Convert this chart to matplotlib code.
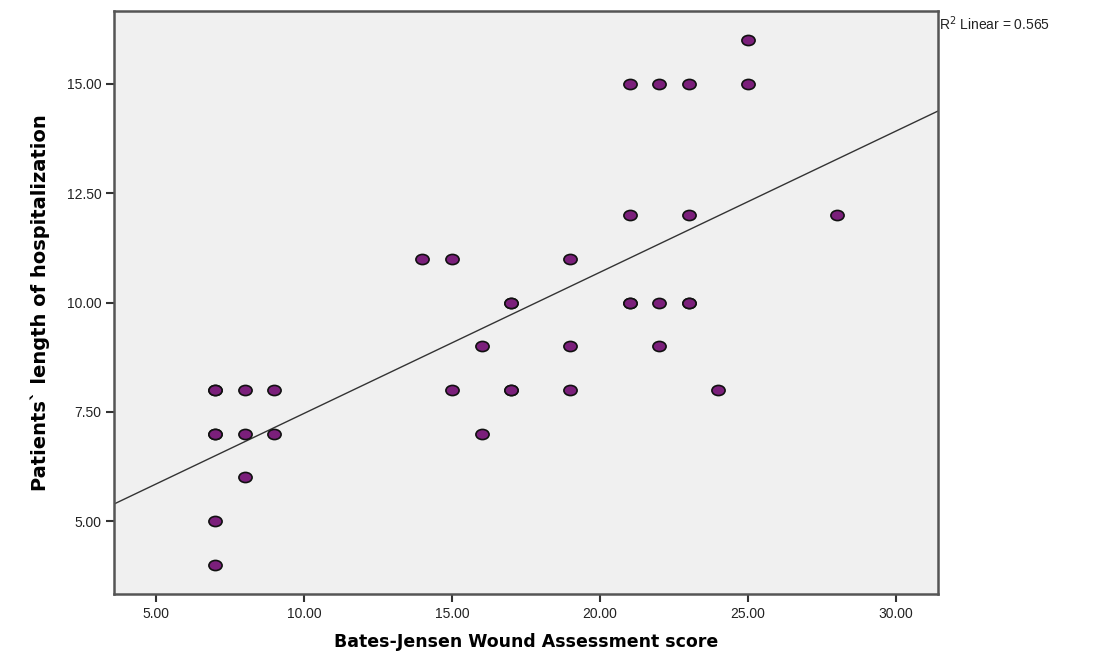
import numpy as np
import matplotlib.pyplot as plt
from matplotlib.path import Path
from matplotlib.transforms import Affine2D

# Bates-Jensen score vs length of hospitalization
score = [7, 7, 7, 7, 7, 7, 8, 8, 8, 9, 9,
         14, 15, 15, 16, 16, 17, 17, 17, 17, 19, 19, 19,
         21, 21, 21, 21, 22, 22, 22, 23, 23, 23, 23, 24, 25, 25, 28]
days = [8, 8, 7, 7, 5, 4, 8, 7, 6, 8, 7,
        11, 11, 8, 9, 7, 10, 10, 8, 8, 11, 9, 8,
        15, 12, 10, 10, 15, 10, 9, 15, 12, 10, 10, 8, 16, 15, 12]
xticks = [5, 10, 15, 20, 25, 30]
yticks = [5.0, 7.5, 10.0, 12.5, 15.0]
r2_text = "R$^2$ Linear = 0.565"

fig = plt.figure(figsize=(10.94, 6.54), dpi=100)
ax = fig.add_axes([0.1042, 0.0917, 0.7532, 0.8915])
ax.set_facecolor('#f0f0f0')

xlim = (3.58, 31.42)
ylim = (3.33, 16.67)

# ellipse marker (SPSS style dots are a bit wider than tall)
ell = Path.unit_circle().transformed(Affine2D().scale(1.3, 1.0))

slope, icpt = np.polyfit(score, days, 1)
xx = np.array(xlim)
ax.plot(xx, icpt + slope * xx, color='#333333', lw=1.0, zorder=2)

ax.scatter(score, days, marker=ell, s=90, facecolor='#7b1f7b',
           edgecolor='#111111', linewidths=1.2, zorder=3)

ax.set_xlim(*xlim)
ax.set_ylim(*ylim)
ax.set_xticks(xticks)
ax.set_xticklabels(['%.2f' % v for v in xticks])
ax.set_yticks(yticks)
ax.set_yticklabels(['%.2f' % v for v in yticks])

for s in ax.spines.values():
    s.set_color('#555555')
    s.set_linewidth(1.8)
ax.tick_params(direction='out', length=6, width=1.5, color='#333333',
               labelsize=10, labelcolor='#222222', pad=3)
for lab in ax.get_xticklabels() + ax.get_yticklabels():
    lab.set_family('Liberation Sans')

ax.set_xlabel('Bates-Jensen Wound Assessment score', fontsize=12.5,
              fontweight='bold', family='DejaVu Sans', labelpad=9)
ax.set_ylabel('Patients` length of hospitalization', fontsize=14,
              fontweight='bold', family='DejaVu Sans', labelpad=12)

fig.text(0.858, 0.978, r2_text, fontsize=10, family='Liberation Sans',
         ha='left', va='top', color='#222222')

fig.savefig('out.png', dpi=100)
